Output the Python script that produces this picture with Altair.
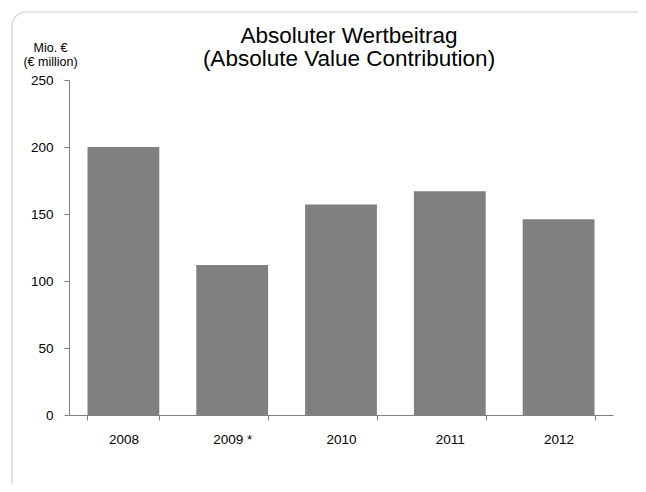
import altair as alt
import pandas as pd

years = ["2008", "2009 *", "2010", "2011", "2012"]
values = [200, 112, 157, 167, 146]
title_lines = ["Absoluter Wertbeitrag", "(Absolute Value Contribution)"]

df = pd.DataFrame({"year": years, "value": values})

FONT = "Liberation Sans"

bars = alt.Chart(df).mark_bar(color="#808080").encode(
    x=alt.X("year:N", sort=years, title=None,
            scale=alt.Scale(paddingInner=0.34, paddingOuter=0.17),
            axis=alt.Axis(labelAngle=0, tickBand="extent", tickSize=5,
                          labelPadding=12, labelFontSize=13.5, labelColor="#000000",
                          domainColor="#808080", tickColor="#808080", labelFont=FONT)),
    y=alt.Y("value:Q", scale=alt.Scale(domain=[0, 250]),
            title=["Mio. €", "(€ million)"],
            axis=alt.Axis(values=[0, 50, 100, 150, 200, 250], grid=False, tickSize=5,
                          labelPadding=11, labelFontSize=13.5, labelColor="#000000",
                          domainColor="#808080", tickColor="#808080", labelFont=FONT,
                          titleAngle=0, titleAlign="center", titleBaseline="top",
                          titleX=-19, titleY=-39, titleFontSize=12.5, titleFontWeight="normal",
                          titleFont=FONT, titleLineHeight=14, titleColor="#000000")),
)

frame = alt.Chart(alt.Data(values=[{"a": 1}])).mark_rect(
    fill=None, stroke="#d0d0d0", strokeWidth=1.2, cornerRadius=14, clip=False
).encode(
    x=alt.value(-57), x2=alt.value(640), y=alt.value(-68), y2=alt.value(470)
)

title = alt.Chart(alt.Data(values=[{"t": title_lines}])).mark_text(
    font=FONT, fontSize=22.5, color="#000000", align="center", baseline="top",
    lineHeight=23, clip=False
).encode(
    x=alt.value(280), y=alt.value(-55), text="t:N"
)

chart = alt.layer(frame, bars, title).properties(
    width=544, height=335,
    autosize=alt.AutoSizeParams(type="none"),
    padding={"left": 61, "top": 72, "right": 25, "bottom": 69},
).configure_view(stroke=None)

chart.save("out.html", embed_options={"renderer": "svg", "actions": False})
